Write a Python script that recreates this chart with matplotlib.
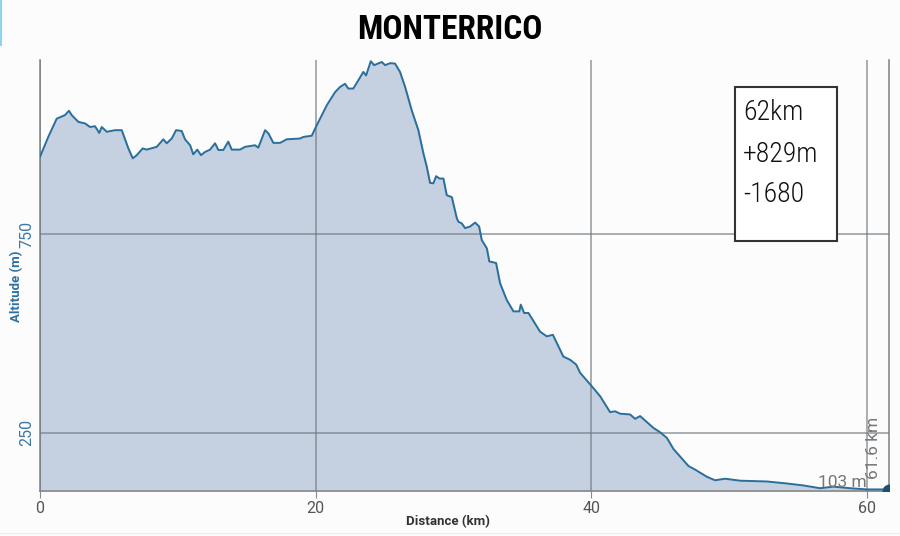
import matplotlib
matplotlib.use("Agg")
import matplotlib.pyplot as plt
from matplotlib import font_manager
from matplotlib.lines import Line2D
from matplotlib.patches import Rectangle

# Elevation profile (km, m)
distance_km = [0.0, 0.60, 1.21, 1.81, 2.10, 2.30, 2.78, 3.27, 3.63, 3.99, 4.30, 4.48, 4.84,
               5.44, 5.93, 6.41, 6.73, 7.02, 7.45, 7.74, 8.47, 8.95, 9.19, 9.56, 9.87,
               10.28, 10.52, 10.89, 11.12, 11.41, 11.68, 11.97, 12.34, 12.70, 12.94, 13.30,
               13.66, 13.91, 14.51, 14.88, 15.60, 15.84, 16.33, 16.57, 16.93, 17.42, 17.90,
               18.87, 19.11, 19.72, 19.96, 20.81, 21.41, 21.77, 22.13, 22.37, 22.73, 23.10,
               23.46, 23.66, 24.00, 24.24, 24.80, 25.04, 25.40, 25.76, 26.12, 26.49, 26.97,
               27.45, 27.82, 28.06, 28.30, 28.54, 28.74, 28.98, 29.27, 29.51, 29.88, 30.24,
               30.36, 30.60, 30.84, 31.20, 31.57, 31.86, 32.05, 32.42, 32.60, 33.09, 33.38,
               33.86, 34.35, 34.78, 34.88, 35.12, 35.44, 36.28, 36.77, 37.21, 37.97, 38.46,
               38.90, 39.19, 40.04, 40.64, 41.36, 41.73, 42.09, 42.82, 43.18, 43.54, 44.51,
               45.00, 45.48, 45.96, 47.05, 47.53, 48.38, 48.98, 49.70, 50.80, 52.73, 54.18,
               55.39, 56.60, 57.57, 58.78, 59.99, 61.32, 61.6]
altitude_m = [946, 996, 1042, 1051, 1062, 1051, 1034, 1030, 1021, 1023, 1006, 1021, 1009,
              1013, 1013, 967, 942, 950, 967, 964, 971, 990, 980, 992, 1013,
              1011, 990, 975, 952, 964, 950, 958, 964, 980, 963, 963,
              984, 964, 964, 971, 975, 969, 1013, 1005, 981, 981, 990,
              992, 996, 999, 1017, 1076, 1109, 1122, 1130, 1118, 1118, 1139,
              1160, 1151, 1187, 1177, 1185, 1177, 1182, 1181, 1160, 1122, 1063,
              1013, 954, 921, 880, 879, 897, 891, 891, 849, 844, 791,
              782, 778, 766, 770, 780, 770, 736, 715, 682, 678, 627,
              585, 556, 556, 573, 552, 552, 505, 493, 497, 442, 434,
              422, 401, 367, 342, 302, 304, 298, 296, 285, 292, 262,
              251, 237, 209, 166, 157, 139, 130, 134, 129, 127, 122,
              117, 110, 114, 110, 107, 107, 103]

x_ticks = [0, 20, 40, 60]
y_ticks = [250, 750]
summary = ["62km", "+829m", "-1680"]
title = "MONTERRICO"

# pick a narrow font if one is installed
installed = {f.name for f in font_manager.fontManager.ttflist}
narrow_name = "Roboto"
for name in ["Roboto Condensed", "Liberation Sans Narrow", "Open Sans Condensed"]:
    if name in installed:
        narrow_name = name
        break
narrow = [narrow_name, "DejaVu Sans"]
plain = ["Roboto", "DejaVu Sans"]

line_col = "#2a6f9c"
fill_col = "#c5d1e1"
grid_col = "#6f7780"

fig = plt.figure(figsize=(9, 5.36), dpi=100, facecolor="#fcfcfc")
ax = fig.add_axes([40 / 900, 1 - 491 / 536, 849 / 900, 431 / 536])
ax.set_facecolor("#fcfcfc")

ax.fill_between(distance_km, altitude_m, 0, color=fill_col, zorder=1)
ax.plot(distance_km, altitude_m, color=line_col, lw=1.4, zorder=3)
ax.plot([distance_km[-1]], [altitude_m[-1]], marker="o", ms=9, color="#1d4f73", zorder=4, clip_on=True)

ax.set_xlim(0, 61.6)
ax.set_ylim(103, 1190)
ax.set_xticks(x_ticks)
ax.set_yticks(y_ticks)
ax.grid(True, color=grid_col, lw=1.1, alpha=0.75, zorder=2)
ax.set_axisbelow(False)

for s in ["left", "bottom", "right"]:
    ax.spines[s].set_color("#8a8a8a")
    ax.spines[s].set_linewidth(1.2)
ax.spines["top"].set_visible(False)

ax.tick_params(axis="x", length=5, color="#8a8a8a", labelsize=11.5, labelcolor="#555555", pad=2)
ax.tick_params(axis="y", length=0, labelsize=11.5, labelcolor="#3b78a8", pad=4)
for lab in ax.get_yticklabels() + ax.get_xticklabels():
    lab.set_family(plain)
for lab in ax.get_yticklabels():
    lab.set_rotation(90)
    lab.set_va("center")

ax.set_xlabel("Distance (km)", fontsize=9.5, fontweight="bold", color="#333333", family=plain)
ax.set_ylabel("Altitude (m)", fontsize=9.5, fontweight="bold", color="#2f6f9f", family=plain)
ax.xaxis.set_label_coords((448 - 40) / 849, (491 - 522) / 431)
ax.xaxis.label.set_va("center")
ax.yaxis.set_label_coords((17 - 40) / 849, (491 - 286) / 431)
ax.yaxis.label.set_va("center")

# end labels
ax.text(60.0, 106, "103 m", fontsize=12.5, color="#777777", ha="right", va="bottom", zorder=5, family=plain)
ax.text(60.45, 212, "61.6 km", fontsize=12.5, color="#777777", rotation=90, ha="center", va="center",
        zorder=5, family=plain)

# title
fig.text(0.5, 1 - 30 / 536, title, ha="center", va="center", fontsize=24, fontweight="bold",
         family=narrow, color="black")

# summary box
fig.add_artist(Rectangle((735 / 900, 1 - 241 / 536), 102 / 900, 154 / 536, transform=fig.transFigure,
                         facecolor="white", edgecolor="#333333", lw=1.5, zorder=6))
for i, line in enumerate(summary):
    fig.text(743 / 900, 1 - (113 + 41 * i) / 536, line, ha="left", va="center", fontsize=20,
             family=narrow, fontweight="light", color="#111111", zorder=7)

# screenshot edge lines
fig.add_artist(Line2D([0.5 / 900, 0.5 / 900], [1, 1 - 45 / 536], color="#8fd3f0", lw=1.5))
fig.add_artist(Line2D([0, 1], [3 / 536, 3 / 536], color="#eeeeee", lw=1))

fig.savefig("out.png", dpi=100, facecolor=fig.get_facecolor())
